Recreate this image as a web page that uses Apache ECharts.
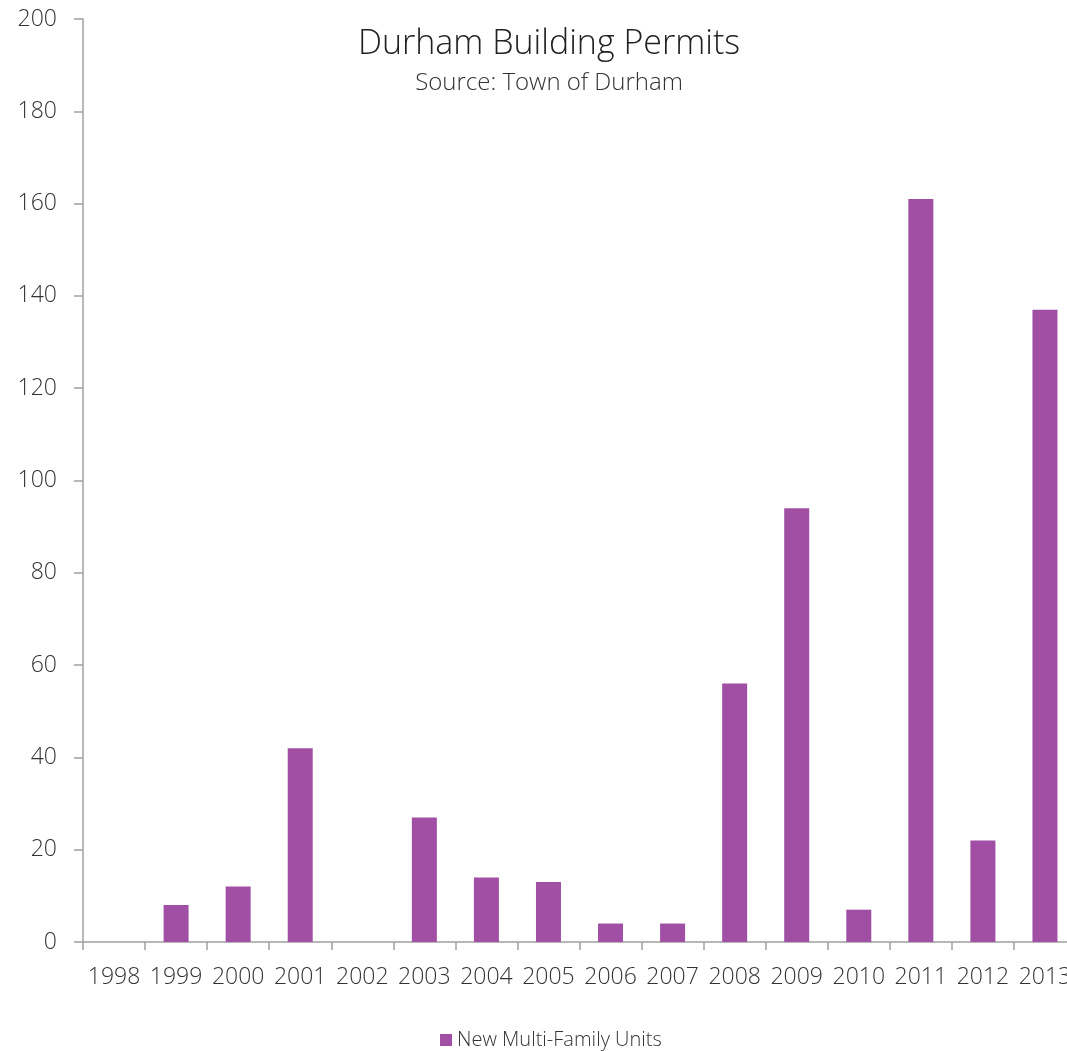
<!DOCTYPE html>
<html>
<head>
<meta charset="utf-8">
<title>Durham Building Permits</title>
<script src="https://cdn.jsdelivr.net/npm/echarts@6/dist/echarts.min.js"></script>
<style>
  html, body { margin: 0; padding: 0; background: #fff; }
  #chart { width: 1067px; height: 1051px; }
</style>
</head>
<body>
<div id="chart"></div>
<script>
// Permit years and new multi-family units issued per year
const years = ['1998','1999','2000','2001','2002','2003','2004','2005','2006','2007','2008','2009','2010','2011','2012','2013'];
const multiFamilyUnits = [0, 8, 12, 42, 0, 27, 14, 13, 4, 4, 56, 94, 7, 161, 22, 137];
const seriesName = 'New Multi-Family Units';

const FONT = '"Open Sans", "Noto Sans", sans-serif';
const TEXT = '#333333';
const AXIS = '#a0a0a0';
const BAR = '#a14fa4';

const chart = echarts.init(document.getElementById('chart'), null, { renderer: 'canvas' });

chart.setOption({
  animation: false,
  backgroundColor: '#ffffff',
  title: {
    text: 'Durham Building Permits',
    subtext: 'Source: Town of Durham',
    left: 544,
    top: 22,
    textAlign: 'center',
    itemGap: 10,
    textStyle: { fontFamily: FONT, fontWeight: 300, fontSize: 34, color: '#222' },
    subtextStyle: { fontFamily: FONT, fontWeight: 300, fontSize: 24, color: TEXT }
  },
  legend: {
    data: [seriesName],
    top: 1030,
    left: 440,
    icon: 'rect',
    itemWidth: 12,
    itemHeight: 12,
    itemGap: 6,
    padding: 0,
    textStyle: { fontFamily: FONT, fontWeight: 300, fontSize: 20, color: TEXT }
  },
  grid: {
    left: 83,
    right: -9,
    top: 19,
    bottom: 109,
    outerBoundsMode: 'none',
    containLabel: false
  },
  xAxis: {
    type: 'category',
    data: years,
    axisLine: { lineStyle: { color: AXIS, width: 1.5 } },
    axisTick: { show: true, alignWithLabel: false, length: 8, lineStyle: { color: AXIS, width: 1.5 } },
    axisLabel: { interval: 0, margin: 24, fontFamily: FONT, fontWeight: 300, fontSize: 23, color: TEXT },
    splitLine: { show: false }
  },
  yAxis: {
    type: 'value',
    min: 0,
    max: 200,
    interval: 20,
    axisLine: { show: true, lineStyle: { color: AXIS, width: 1.5 } },
    axisTick: { show: true, length: 9, lineStyle: { color: AXIS, width: 1.5 } },
    axisLabel: { margin: 26, fontFamily: FONT, fontWeight: 300, fontSize: 23, color: TEXT },
    splitLine: { show: false }
  },
  series: [{
    name: seriesName,
    type: 'bar',
    data: multiFamilyUnits,
    barWidth: 25,
    itemStyle: { color: BAR }
  }]
});
</script>
</body>
</html>
